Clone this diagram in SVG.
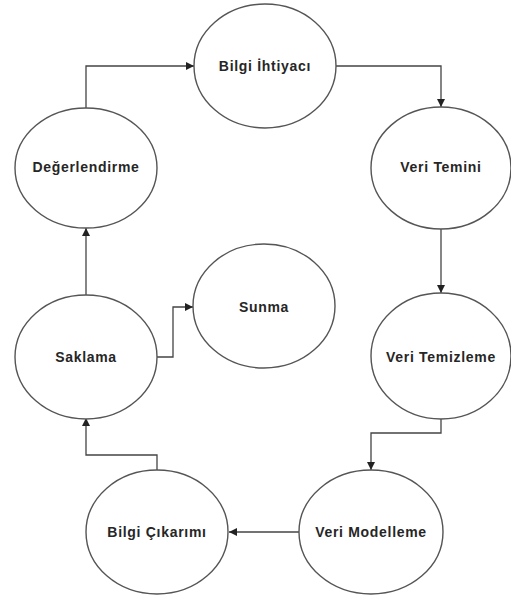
<svg xmlns="http://www.w3.org/2000/svg" width="511" height="601" viewBox="0 0 511 601">
<style>
.n ellipse{fill:#fff;stroke:#555;stroke-width:1.4}
.n text{font-family:"Liberation Sans",Arial,sans-serif;font-weight:bold;font-size:14px;letter-spacing:0.7px;fill:#262626;text-anchor:middle;dominant-baseline:central}
#edges path{fill:none;stroke:#444;stroke-width:1.3}
</style>
<defs>
<marker id="a" viewBox="0 0 10 10" refX="10" refY="5" markerWidth="8" markerHeight="8" markerUnits="userSpaceOnUse" orient="auto">
<path d="M0,0 L10,5 L0,10 z" fill="#222"/>
</marker>
</defs>
<rect width="511" height="601" fill="#fff"/>
<g id="edges">
<path d="M86,108 V66 H194" marker-end="url(#a)"/>
<path d="M336,66 H441 V107" marker-end="url(#a)"/>
<path d="M441,228 V293" marker-end="url(#a)"/>
<path d="M441,419 V433 H371 V470" marker-end="url(#a)"/>
<path d="M299,532 H229" marker-end="url(#a)"/>
<path d="M157,470 V455 H86 V418" marker-end="url(#a)"/>
<path d="M86,295 V228" marker-end="url(#a)"/>
<path d="M157,357 H173 V307 H193" marker-end="url(#a)"/>
</g>
<g id="bilgi-ihtiyaci" class="n"><ellipse cx="265" cy="66" rx="71" ry="62"/><text x="265" y="66">Bilgi İhtiyacı</text></g>
<g id="degerlendirme" class="n"><ellipse cx="86" cy="168" rx="71" ry="60"/><text x="86" y="167">Değerlendirme</text></g>
<g id="veri-temini" class="n"><ellipse cx="441" cy="168" rx="70" ry="61"/><text x="441" y="167">Veri Temini</text></g>
<g id="sunma" class="n"><ellipse cx="264" cy="306" rx="71" ry="62"/><text x="264" y="307">Sunma</text></g>
<g id="saklama" class="n"><ellipse cx="86" cy="357" rx="71" ry="62"/><text x="86" y="357">Saklama</text></g>
<g id="veri-temizleme" class="n"><ellipse cx="441" cy="356" rx="70" ry="63"/><text x="441" y="357">Veri Temizleme</text></g>
<g id="bilgi-cikarimi" class="n"><ellipse cx="157" cy="532" rx="71" ry="62"/><text x="157" y="532">Bilgi Çıkarımı</text></g>
<g id="veri-modelleme" class="n"><ellipse cx="371" cy="532" rx="72" ry="62"/><text x="371" y="532">Veri Modelleme</text></g>
</svg>
